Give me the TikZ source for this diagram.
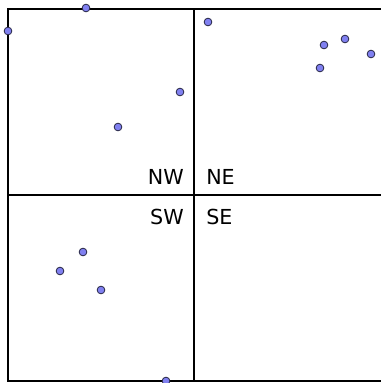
\documentclass[tikz,border=0pt]{standalone}
\usepackage{fontspec}
\setmainfont{DejaVu Sans}
\usetikzlibrary{positioning}
\definecolor{pointBlue}{RGB}{128,128,240}
\definecolor{pointEdge}{RGB}{40,40,70}
\tikzset{
  quadline/.style={draw=black, line width=1.6pt},
  pt/.style={circle, draw=pointEdge, fill=pointBlue, line width=0.6pt,
             minimum size=5.8pt, inner sep=0pt},
  quadlabel/.style={inner sep=0pt, font=\fontsize{15.5}{18}\selectfont}
}
\begin{document}
\begin{tikzpicture}[x=0.75pt, y=-0.75pt]
        \useasboundingbox (0,0) rectangle (380,383);
        % region and split
        \draw[quadline] (8,9) rectangle (384,381);
        \coordinate (c) at (194,195);
        \draw[quadline] (194,9) -- (194,381);
        \draw[quadline] (8,195) -- (384,195);
        % quadrant names
        \node[quadlabel, anchor=base east] (nw) at (184,184) {NW};
        \node[quadlabel, anchor=base west] (ne) at (206,184) {NE};
        \node[quadlabel, anchor=base east] (sw) at (184,224) {SW};
        \node[quadlabel, anchor=base west] (se) at (206,224) {SE};
        % points
        \node[pt] (p1) at (86,8) {};
        \node[pt] (p2) at (8,31) {};
        \node[pt] (p3) at (180,92) {};
        \node[pt] (p4) at (118,127) {};
        \node[pt] (p5) at (208,22) {};
        \node[pt] (p6) at (324,45) {};
        \node[pt] (p7) at (345,39) {};
        \node[pt] (p8) at (371,54) {};
        \node[pt] (p9) at (320,68) {};
        \node[pt] (p10) at (83,252) {};
        \node[pt] (p11) at (60,271) {};
        \node[pt] (p12) at (101,290) {};
        \node[pt] (p13) at (166,381) {};
      \end{tikzpicture}
\end{document}
